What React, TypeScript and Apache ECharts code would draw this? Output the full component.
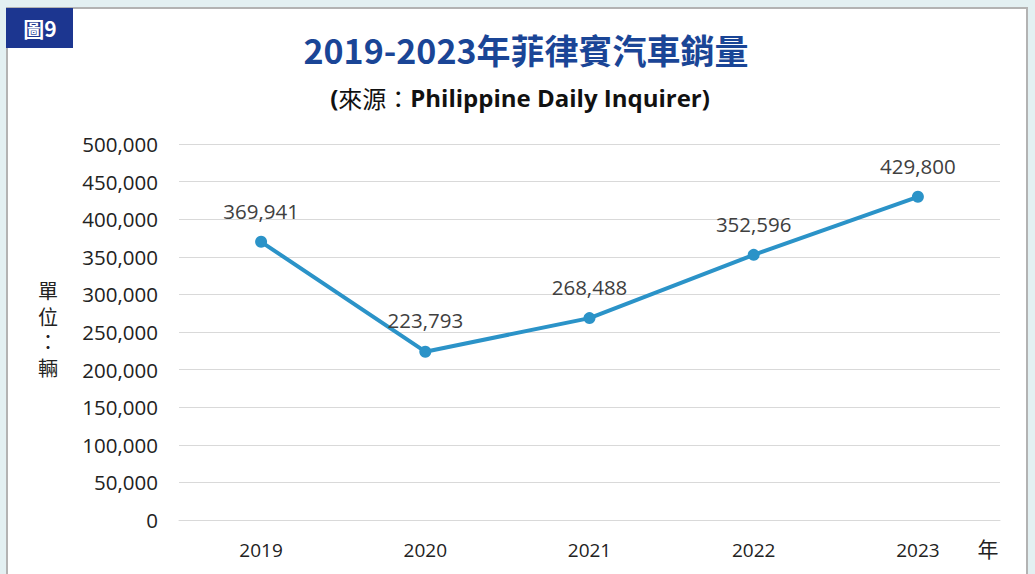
import React, { useEffect, useRef } from "react";
import * as echarts from "echarts";

const years = ["2019", "2020", "2021", "2022", "2023"];
const sales = [369941, 223793, 268488, 352596, 429800];
const yMin = 0;
const yMax = 500000;
const yStep = 50000;
const unitChars = ["單", "位", "：", "輛"];

const fontStack = '"Open Sans", "Noto Sans CJK TC", sans-serif';

export default function App() {
  const ref = useRef<HTMLDivElement>(null);
  useEffect(() => {
    if (!ref.current) return;
    const chart = echarts.init(ref.current, null, { renderer: "svg" });
    const unitYs = [292, 318, 343, 369];
    chart.setOption({
      animation: false,
      backgroundColor: "#e3f0f2",
      graphic: [
        {
          type: "rect",
          shape: { x: 7, y: 8, width: 1020, height: 580 },
          style: { fill: "#ffffff", stroke: "#b3b3b3", lineWidth: 2 },
          z: -10,
        },
        {
          type: "rect",
          shape: { x: 6, y: 8, width: 67, height: 40 },
          style: { fill: "#1c3690" },
          z: 10,
        },
        {
          type: "text",
          x: 40,
          y: 28,
          style: {
            text: "圖9",
            fill: "#ffffff",
            font: 'bold 21px "Noto Sans CJK TC", sans-serif',
            align: "center",
            verticalAlign: "middle",
          },
          z: 11,
        },
        {
          type: "text",
          x: 526,
          y: 49,
          style: {
            text: "2019-2023年菲律賓汽車銷量",
            fill: "#1a4596",
            font: 'bold 34px "Noto Sans CJK TC", sans-serif',
            align: "center",
            verticalAlign: "middle",
          },
        },
        {
          type: "text",
          x: 520,
          y: 97,
          style: {
            text: "{b|(}{n|來源：}{b|Philippine Daily Inquirer)}",
            align: "center",
            verticalAlign: "middle",
            rich: {
              b: { font: 'bold 24px "Open Sans", sans-serif', fill: "#111111" },
              n: { font: '24px "Noto Sans CJK TC", sans-serif', fill: "#111111" },
            },
          },
        },
        ...unitChars.map((c, i) => ({
          type: "text",
          x: 48,
          y: unitYs[i],
          style: {
            text: c,
            fill: "#222222",
            font: '20px "DejaVu Sans", "Noto Sans CJK TC", sans-serif',
            lineHeight: 22,
            align: "center",
            verticalAlign: "middle",
          },
        })),
        {
          type: "text",
          x: 988,
          y: 548,
          style: {
            text: "年",
            fill: "#222222",
            font: '21px "Noto Sans CJK TC", sans-serif',
            align: "center",
            verticalAlign: "middle",
          },
        },
      ],
      grid: { left: 179, right: 35, top: 144, bottom: 54, containLabel: false },
      xAxis: {
        type: "category",
        data: years,
        boundaryGap: true,
        axisLine: { show: true, lineStyle: { color: "#d9d9d9", width: 1 } },
        axisTick: { show: false },
        axisLabel: {
          color: "#222222",
          fontSize: 19,
          fontFamily: fontStack,
          margin: 20,
        },
      },
      yAxis: {
        type: "value",
        min: yMin,
        max: yMax,
        interval: yStep,
        axisLine: { show: false },
        axisTick: { show: false },
        splitLine: { lineStyle: { color: "#d9d9d9", width: 1 } },
        axisLabel: {
          color: "#222222",
          fontSize: 20.5,
          fontFamily: fontStack,
          margin: 21,
          formatter: (v: number) => v.toLocaleString("en-US"),
        },
      },
      series: [
        {
          type: "line",
          data: sales,
          lineStyle: { color: "#2b93c8", width: 4 },
          itemStyle: { color: "#2b93c8" },
          symbol: "circle",
          symbolSize: 12,
          label: {
            show: true,
            position: "top",
            distance: 15,
            color: "#404040",
            fontSize: 20.5,
            fontFamily: fontStack,
            formatter: (p: any) => Number(p.value).toLocaleString("en-US"),
          },
        },
      ],
    });
    return () => chart.dispose();
  }, []);
  return (
    <div
      ref={ref}
      style={{ position: "fixed", left: 0, top: 0, width: 1035, height: 574 }}
    />
  );
}
